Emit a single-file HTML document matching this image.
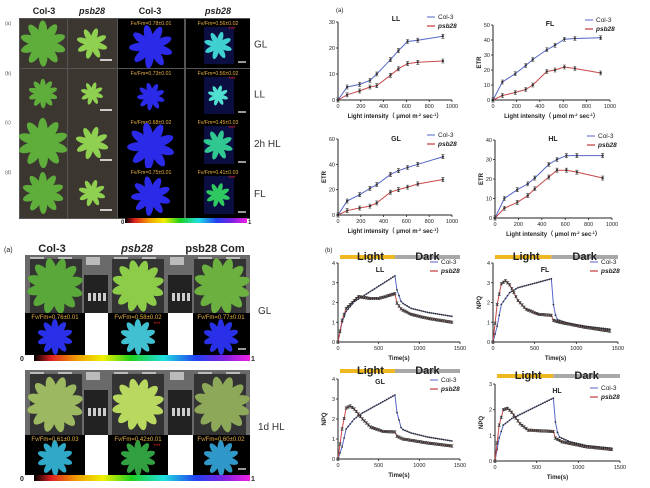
<!DOCTYPE html>
<html><head><meta charset="utf-8"><style>
html,body{margin:0;padding:0;background:#fff;width:650px;height:488px;overflow:hidden}
svg{display:block}
text{font-family:"Liberation Sans",sans-serif}
</style></head><body>
<svg id="s" width="650" height="488" viewBox="0 0 650 488" xmlns="http://www.w3.org/2000/svg">
<defs>
<linearGradient id="rb" x1="0" x2="1" y1="0" y2="0">
<stop offset="0" stop-color="#000"/><stop offset="0.08" stop-color="#e02020"/><stop offset="0.2" stop-color="#f0a000"/><stop offset="0.32" stop-color="#f0f000"/><stop offset="0.45" stop-color="#20d020"/><stop offset="0.6" stop-color="#20e0e0"/><stop offset="0.75" stop-color="#2040f0"/><stop offset="0.88" stop-color="#8020e0"/><stop offset="1" stop-color="#f020e0"/>
</linearGradient>
</defs>
<g id="g"></g>
</svg>
<script>
const g=document.getElementById('g');let h='';
const T=(x,y,s,o)=>{o=o||{};h+=`<text x="${x}" y="${y}" font-size="${o.fs||8}" fill="${o.c||'#222'}" font-weight="${o.b?'bold':'normal'}" font-style="${o.i?'italic':'normal'}" text-anchor="${o.a||'start'}" ${o.tr?`transform="${o.tr}"`:''}>${s}</text>`;};
const R=(x,y,w,hh,f,ex)=>{h+=`<rect x="${x}" y="${y}" width="${w}" height="${hh}" fill="${f}" ${ex||''}/>`;};
function plant(cx,cy,r,col,n){n=n||9;for(let i=0;i<n;i++){const a=i*2*Math.PI/n+0.3;const x=cx+Math.cos(a)*r*0.55,y=cy+Math.sin(a)*r*0.55;h+=`<ellipse cx="${x}" cy="${y}" rx="${r*0.5}" ry="${r*0.2}" fill="${col}" transform="rotate(${a*180/Math.PI} ${x} ${y})"/>`;}h+=`<circle cx="${cx}" cy="${cy}" r="${r*0.3}" fill="${col}"/>`;}
T(44,14,'Col-3',{fs:9,b:1,a:'middle'});T(92,14,'psb28',{fs:9,b:1,i:1,a:'middle'});
T(150,14,'Col-3',{fs:9,b:1,a:'middle'});T(218,14,'psb28',{fs:9,b:1,i:1,a:'middle'});
const rows=[[19,49],[69,49],[118,50],[168,50]];const lab=['GL','LL','2h HL','FL'];const ab=['(a)','(b)','(c)','(d)'];
const fv=[['Fv/Fm=0.78±0.01','Fv/Fm=0.56±0.02'],['Fv/Fm=0.73±0.01','Fv/Fm=0.56±0.02'],['Fv/Fm=0.68±0.02','Fv/Fm=0.45±0.03'],['Fv/Fm=0.75±0.01','Fv/Fm=0.41±0.03']];
const pcol=['#3fd0d0','#50e0d0','#30c890','#30c860'];const csz=[22,14,24,20],psz=[15,11,16,13];
R(19,18,231,201,'#555');
rows.forEach(([y,hh],i)=>{
 R(20,y,47,hh,'#3b3630');R(68,y,49,hh,'#3b3630');
 plant(43,y+hh/2,csz[i],'#5fae3c',10);plant(92,y+hh/2,psz[i],'#8fd050',8);
 h+=`<line x1="100" y1="${y+hh-8}" x2="112" y2="${y+hh-8}" stroke="#fff" stroke-width="1.5"/>`;
 R(118,y,66,hh,'#000');R(186,y,64,hh,'#000');
 plant(151,y+hh/2+3,csz[i]*0.95,'#2a2ae8',9);
 h+=`<rect x="${204}" y="${y+8}" width="30" height="${hh-12}" fill="#10186a" opacity="0.6"/>`;
 plant(218,y+hh/2+2,psz[i]*0.9,pcol[i],8);
 h+=`<line x1="238" y1="${y+hh-6}" x2="246" y2="${y+hh-6}" stroke="#fff" stroke-width="1.2"/>`;
 T(151,y+6,fv[i][0],{fs:5.2,c:'#e8b040',a:'middle'});T(218,y+6,fv[i][1],{fs:5.2,c:'#e8b040',a:'middle'});
 T(232,y+12,'***',{fs:6,c:'#e02020',a:'middle'});
 T(254,y+hh/2+4,lab[i],{fs:10,c:'#333'});T(5,y+6,ab[i],{fs:5,c:'#555'});
});
R(125,218,122,5,'url(#rb)');T(121,224,'0',{fs:6,b:1});T(248,224,'1',{fs:6,b:1});
T(4,252,'(a)',{fs:7});T(52,252,'Col-3',{fs:11,b:1,a:'middle'});T(137,252,'psb28',{fs:11,b:1,i:1,a:'middle'});T(215,252,'psb28 Com',{fs:11,b:1,a:'middle'});
function block(y0,ph,fy,fh,cb,plcol,fl,lab,fvs){
 R(25,y0,225,ph,'#6a6a6a');
 for(let k=0;k<8;k++)R(30+k*28,y0+2,14,8,'#bbb');
 R(84,y0+20,24,ph-20,'#222');R(168,y0+20,24,ph-20,'#222');
 for(let k=0;k<4;k++){R(88+k*5,y0+38,3,8,'#ccc');R(172+k*5,y0+38,3,8,'#ccc');}
 R(30,y0+4,52,ph-2,'#333');R(112,y0+4,52,ph-2,'#333');R(194,y0+4,52,ph-2,'#333');
 plant(55,y0+ph/2+2,27,plcol[0],12);plant(138,y0+ph/2+2,25,plcol[1],12);plant(222,y0+ph/2+2,27,plcol[2],12);
 R(25,fy,60,fh,'#000');R(85,fy,23,fh,'#fff');R(108,fy,60,fh,'#000');R(168,fy,25,fh,'#fff');R(193,fy,57,fh,'#000');
 plant(55,fy+fh/2+3,17,fl[0],10);plant(138,fy+fh/2+3,17,fl[1],10);plant(221,fy+fh/2+3,17,fl[2],10);
 T(55,fy+6,fvs[0],{fs:6,c:'#e8b040',a:'middle'});T(138,fy+6,fvs[1],{fs:6,c:'#e8b040',a:'middle'});T(221,fy+6,fvs[2],{fs:6,c:'#e8b040',a:'middle'});
 T(157,fy+13,'***',{fs:6,c:'#e02020',a:'middle'});
 h+=`<line x1="238" y1="${fy+fh-6}" x2="246" y2="${fy+fh-6}" stroke="#fff" stroke-width="1.2"/>`;
 R(34,cb,216,6,'url(#rb)');T(20,cb+6,'0',{fs:7,b:1});T(251,cb+6,'1',{fs:7,b:1});
 T(258,lab[1],lab[0],{fs:10,c:'#333'});
}
block(255,58,313,42,355,['#5aa83a','#8ccc48','#6cb040'],['#2a30e8','#40c0d0','#2a30e8'],['GL',314],['Fv/Fm=0.76±0.01','Fv/Fm=0.58±0.02','Fv/Fm=0.77±0.01']);
block(370,65,435,40,475,['#9cb860','#b8d860','#8ca858'],['#30a8c8','#30a040','#3098c8'],['1d HL',430],['Fv/Fm=0.61±0.03','Fv/Fm=0.42±0.01','Fv/Fm=0.60±0.02']);
const BL='#5565c8',RD='#c84848';
function axes(x0,x1,y0,y1,xt,xmax,yt,ymax,xl,yl,title,tx,ty){
 h+=`<path d="M${x0} ${y1}V${y0}H${x1}" stroke="#222" stroke-width="1" fill="none"/>`;
 xt.forEach(v=>{const x=x0+(x1-x0)*v/xmax;h+=`<line x1="${x}" y1="${y0}" x2="${x}" y2="${y0+2}" stroke="#222" stroke-width=".8"/>`;T(x,y0+8,v,{fs:5.5,a:'middle'});});
 yt.forEach(v=>{const y=y0-(y0-y1)*v/ymax;h+=`<line x1="${x0-2}" y1="${y}" x2="${x0}" y2="${y}" stroke="#222" stroke-width=".8"/>`;T(x0-3,y+2,v,{fs:5.5,a:'end'});});
 T((x0+x1)/2,y0+18,xl,{fs:6,b:1,a:'middle'});
 T(0,0,yl,{fs:6,b:1,a:'middle',tr:`translate(${x0-12} ${(y0+y1)/2}) rotate(-90)`});
 T(tx,ty,title,{fs:7,b:1,a:'middle'});
}
function series(x0,x1,y0,y1,xmax,ymax,xs,ys,col,err,mk){
 const P=xs.map((x,i)=>[x0+(x1-x0)*x/xmax,y0-(y0-y1)*ys[i]/ymax]);
 h+=`<polyline points="${P.map(p=>p.join(',')).join(' ')}" fill="none" stroke="${col}" stroke-width="1"/>`;
 P.forEach(p=>{if(err)h+=`<path d="M${p[0]} ${p[1]-err}V${p[1]+err}M${p[0]-1.5} ${p[1]-err}h3M${p[0]-1.5} ${p[1]+err}h3" stroke="#333" stroke-width=".6"/>`;h+=`<circle cx="${p[0]}" cy="${p[1]}" r="${mk}" fill="#333"/>`;});
}
function legend(x,y){h+=`<line x1="${x}" y1="${y}" x2="${x+8}" y2="${y}" stroke="${BL}"/><line x1="${x}" y1="${y+9}" x2="${x+8}" y2="${y+9}" stroke="${RD}" stroke-width="1.3"/>`;T(x+11,y+2,'Col-3',{fs:6.5});T(x+11,y+11,'psb28',{fs:6.5,b:1,i:1});}
T(336,12,'(a)',{fs:6});
const ex=[0,80,190,280,340,460,530,610,700,920];
const E=[
 [338,452,100,22,30,[0,10,20,30],[0,5,6,7.5,10,15.5,19,22.5,23,24.5],[0,2,3.5,5,5.5,9.5,12,14,14.5,15],'LL',396,21,'',[427,17]],
 [493,610,100,25,50,[0,10,20,30,40,50],[0,12,17.5,23,27,33.5,36.5,40.5,41,41.5],[0,3,5,7,10,19,20,22,21,18],'FL',550,26,'ETR',[585,20]],
 [338,452,215,139,60,[0,20,40,60],[0,11,16,21,24,32,35,37.5,40,46],[0,3.5,5.5,7,9.5,18,20,22,24.5,28],'GL',396,141,'ETR',[427,135]],
 [495,612,218,140,40,[0,10,20,30,40],[0,10,14.5,17.5,20.5,27.5,30,32,32,32],[0,5,8,11.5,15,21,24.5,24.5,23.5,20.5],'HL',553,141,'ETR',[587,136]]
];
E.forEach(e=>{axes(e[0],e[1],e[2],e[3],[0,200,400,600,800,1000],1000,e[5],e[4],'Light intensity（ μmol m<tspan baseline-shift="super" font-size="4">-2</tspan> sec<tspan baseline-shift="super" font-size="4">-1</tspan>）',e[11],e[8],e[9],e[10]);
 series(e[0],e[1],e[2],e[3],1000,e[4],ex,e[6],BL,2,1.2);series(e[0],e[1],e[2],e[3],1000,e[4],ex,e[7],RD,2,1.2);legend(e[12][0],e[12][1]);});
function curve(k){const xs=[],ys=[];for(let t=0;t<=1400;t+=25){let v;for(let i=0;i<k.length-1;i++){if(t>=k[i][0]&&t<=k[i+1][0]){const f=(t-k[i][0])/(k[i+1][0]-k[i][0]);v=k[i][1]+f*(k[i+1][1]-k[i][1]);break;}}if(v===undefined)v=k[k.length-1][1];xs.push(t);ys.push(v);}return [xs,ys];}
T(325,252,'(b)',{fs:6});
const N=[
 [338,460,342,263,4,[0,1,2,3,4],[[0,0],[50,1],[100,1.55],[200,2.05],[300,2.3],[700,3.35],[720,2.7],[780,2.0],[900,1.7],[1100,1.5],[1400,1.3]],[[0,0],[50,1.1],[100,1.7],[250,2.3],[400,2.2],[500,2.2],[700,2.45],[720,2.0],[780,1.65],[900,1.4],[1100,1.2],[1400,1.0]],'LL',380,272,257,'',[430,262]],
 [493,618,342,263,4,[0,1,2,3,4],[[0,0],[50,0.8],[100,1.9],[200,2.5],[300,2.75],[700,3.2],[720,2.0],[760,1.15],[900,0.95],[1100,0.8],[1400,0.65]],[[0,0],[50,1.9],[100,2.95],[150,3.1],[200,2.9],[300,2.1],[400,1.65],[550,1.4],[700,1.35],[720,1.1],[800,1.0],[1100,0.75],[1400,0.55]],'FL',545,272,257,'NPQ',[590,262]],
 [338,460,459,379,4,[0,1,2,3,4],[[0,0],[50,0.6],[100,1.5],[200,2.0],[300,2.3],[700,3.2],[720,2.4],[780,1.5],[900,1.3],[1100,1.1],[1400,0.9]],[[0,0],[50,1.5],[100,2.55],[150,2.65],[200,2.5],[300,2.0],[400,1.6],[550,1.38],[700,1.35],[720,1.15],[800,1.0],[1100,0.8],[1400,0.65]],'GL',380,384,371,'NPQ',[430,380]],
 [495,620,461,384,3,[0,1,2,3],[[0,0],[50,0.9],[100,1.4],[200,1.65],[700,2.45],[720,1.6],[760,0.95],[900,0.75],[1100,0.6],[1400,0.5]],[[0,0],[50,1.4],[100,2.0],[150,2.05],[200,1.9],[300,1.45],[400,1.2],[700,1.15],[720,0.9],[800,0.75],[1100,0.55],[1400,0.45]],'HL',557,393,376,'NPQ',[590,388]]
];
N.forEach(n=>{
 const [x0,x1,y0,y1,ym]=n;const xm=x0+(x1-x0)*700/1500;
 R(x0+2,n[11]-2,xm-x0-2,4,'#f0b820');R(xm,n[11]-2,x1-xm,4,'#a8a8a8');
 T((x0+xm)/2+4,n[11]+3,'Light',{fs:11,b:1,a:'middle'});T((xm+x1)/2,n[11]+3,'Dark',{fs:11,b:1,a:'middle'});
 axes(x0,x1,y0,y1,[0,500,1000,1500],1500,n[5],ym,'Time(s)',n[12],n[8],n[9],n[10]);
 const c1=curve(n[6]),c2=curve(n[7]);
 series(x0,x1,y0,y1,1500,ym,c1[0],c1[1],BL,0,0.9);series(x0,x1,y0,y1,1500,ym,c2[0],c2[1],RD,1.2,0.9);legend(n[13][0],n[13][1]);
});
g.innerHTML=h;
</script>
</body></html>
